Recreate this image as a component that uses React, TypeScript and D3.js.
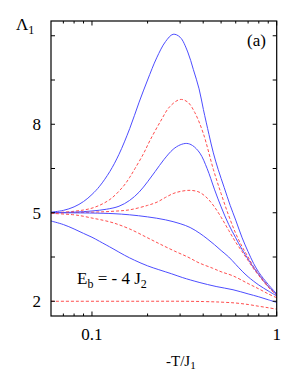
import React from "react";
import * as d3 from "d3";

const blue1T = [0.06, 0.07, 0.08, 0.09, 0.1, 0.11, 0.125, 0.14, 0.16, 0.18, 0.2, 0.224, 0.25, 0.275, 0.3, 0.33, 0.354, 0.38, 0.401, 0.43, 0.454, 0.482, 0.52, 0.56, 0.6, 0.65, 0.7, 0.75, 0.8, 0.9, 1.0];
const blue1V = [5.02, 5.08, 5.2, 5.38, 5.62, 5.9, 6.4, 6.98, 7.85, 8.75, 9.5, 10.25, 10.8, 11.05, 10.95, 10.45, 9.85, 9.2, 8.5, 7.65, 7.03, 6.47, 5.85, 5.25, 4.75, 4.15, 3.68, 3.28, 2.98, 2.57, 2.25];

const red1T = [0.06, 0.08, 0.1016, 0.125, 0.148, 0.16, 0.171, 0.19, 0.206, 0.235, 0.264, 0.3, 0.33, 0.36, 0.4, 0.454, 0.5, 0.55, 0.6, 0.65, 0.7, 0.75, 0.8, 0.9, 1.0];
const red1V = [5.0, 5.05, 5.17, 5.45, 5.9, 6.2, 6.5, 7.0, 7.45, 8.1, 8.6, 8.84, 8.75, 8.4, 7.7, 6.47, 5.65, 4.9, 4.3, 3.85, 3.5, 3.17, 2.92, 2.52, 2.22];

const blue2T = [0.06, 0.08, 0.1, 0.12, 0.14, 0.16, 0.18, 0.2, 0.22, 0.245, 0.275, 0.3, 0.326, 0.35, 0.384, 0.42, 0.46, 0.5, 0.55, 0.6, 0.65, 0.7, 0.75, 0.8, 0.9, 1.0];
const blue2V = [5.0, 5.02, 5.06, 5.12, 5.22, 5.42, 5.7, 6.05, 6.4, 6.8, 7.15, 7.3, 7.35, 7.28, 7.02, 6.5, 5.8, 5.2, 4.6, 4.15, 3.75, 3.43, 3.14, 2.9, 2.5, 2.22];

const red2T = [0.06, 0.1, 0.13, 0.16, 0.2, 0.225, 0.25, 0.275, 0.3, 0.34, 0.38, 0.42, 0.46, 0.5, 0.55, 0.6, 0.65, 0.7, 0.75, 0.8, 0.9, 1.0];
const red2V = [5.0, 5.02, 5.05, 5.1, 5.25, 5.36, 5.52, 5.65, 5.72, 5.76, 5.7, 5.5, 5.2, 4.85, 4.4, 4.0, 3.68, 3.38, 3.1, 2.87, 2.48, 2.2];

const blue3T = [0.06, 0.1, 0.13, 0.16, 0.2, 0.25, 0.3, 0.34, 0.384, 0.42, 0.46, 0.5, 0.55, 0.6, 0.65, 0.7, 0.8, 0.9, 1.0];
const blue3V = [5.0, 4.99, 4.97, 4.93, 4.86, 4.76, 4.63, 4.5, 4.3, 4.12, 3.92, 3.72, 3.5, 3.25, 3.02, 2.83, 2.55, 2.35, 2.18];

const red3T = [0.06, 0.08, 0.09, 0.1, 0.11, 0.13, 0.16, 0.2, 0.235, 0.28, 0.33, 0.38, 0.45, 0.5, 0.58, 0.7, 0.8, 0.9, 1.0];
const red3V = [4.98, 4.93, 4.88, 4.82, 4.77, 4.66, 4.45, 4.15, 3.93, 3.7, 3.5, 3.3, 3.12, 3.0, 2.86, 2.6, 2.42, 2.25, 2.12];

const blue4T = [0.06, 0.07, 0.08, 0.09, 0.1, 0.11, 0.13, 0.15, 0.17, 0.2, 0.23, 0.27, 0.31, 0.38, 0.47, 0.58, 0.7, 0.8, 0.9, 1.0];
const blue4V = [4.72, 4.6, 4.45, 4.3, 4.17, 4.03, 3.78, 3.56, 3.39, 3.2, 3.07, 2.93, 2.8, 2.64, 2.5, 2.39, 2.25, 2.15, 2.05, 1.96];

const red4T = [0.06, 0.2, 0.3, 0.4, 0.5, 0.6, 0.7, 0.8, 0.9, 1.0];
const red4V = [2.0, 2.0, 2.0, 1.99, 1.97, 1.94, 1.89, 1.83, 1.78, 1.73];

const yTicks = [2, 3.5, 5, 6.5, 8, 9.5, 11];
const yLabels = [2, 5, 8];
const xMajor = [0.1, 1];
const xMinor = [0.07, 0.08, 0.09, 0.2, 0.3, 0.4, 0.5, 0.6, 0.7, 0.8, 0.9];

const series = [
  { t: blue1T, v: blue1V, kind: "blue" },
  { t: red1T, v: red1V, kind: "red" },
  { t: blue2T, v: blue2V, kind: "blue" },
  { t: red2T, v: red2V, kind: "red" },
  { t: blue3T, v: blue3V, kind: "blue" },
  { t: red3T, v: red3V, kind: "red" },
  { t: blue4T, v: blue4V, kind: "blue" },
  { t: red4T, v: red4V, kind: "red" },
];

const FONT = "'Liberation Serif', 'DejaVu Serif', serif";

export default function App() {
  const L = 51, R = 276.7, T = 21, B = 316;
  const x = d3.scaleLog().domain([0.06, 1]).range([L, R]);
  const y = d3.scaleLinear().domain([1.5, 11.5]).range([B, T]);
  const ts = { fontFamily: FONT };

  const line = d3
    .line<[number, number]>()
    .x((d) => x(d[0]))
    .y((d) => y(d[1]))
    .curve(d3.curveCatmullRom.alpha(0.5));

  return (
    <svg width={307} height={370} style={{ position: "absolute", left: 0, top: 0 }}>
      <rect x={0} y={0} width={307} height={370} fill="white" />
      <defs>
        <clipPath id="plot">
          <rect x={L} y={T} width={R - L} height={B - T} />
        </clipPath>
      </defs>
      <g clipPath="url(#plot)">
        {series.map((s, i) => (
          <path
            key={i}
            d={line(s.t.map((t, j) => [t, s.v[j]] as [number, number])) || ""}
            fill="none"
            stroke={s.kind === "blue" ? "#4d4dff" : "#ff4d4d"}
            strokeWidth={1}
            strokeDasharray={s.kind === "red" ? "3,2" : undefined}
          />
        ))}
      </g>
      <rect x={L} y={T} width={R - L} height={B - T} fill="none" stroke="black" strokeWidth={1.2} />
      {yTicks.map((v) => (
        <g key={"y" + v}>
          <line x1={L} x2={L + 4} y1={y(v)} y2={y(v)} stroke="black" strokeWidth={1} />
          <line x1={R} x2={R - 4} y1={y(v)} y2={y(v)} stroke="black" strokeWidth={1} />
        </g>
      ))}
      {yLabels.map((v) => (
        <text key={"yl" + v} x={41} y={y(v) + 6} textAnchor="end" fontSize={17} style={ts}>
          {v}
        </text>
      ))}
      {xMajor.map((t) => (
        <g key={"xM" + t}>
          <line x1={x(t)} x2={x(t)} y1={B} y2={B - 4.5} stroke="black" strokeWidth={1} />
          <line x1={x(t)} x2={x(t)} y1={T} y2={T + 4.5} stroke="black" strokeWidth={1} />
          <text x={x(t)} y={340} textAnchor="middle" fontSize={17} style={ts}>
            {t}
          </text>
        </g>
      ))}
      {xMinor.map((t) => (
        <g key={"xm" + t}>
          <line x1={x(t)} x2={x(t)} y1={B} y2={B - 2.5} stroke="black" strokeWidth={1} />
          <line x1={x(t)} x2={x(t)} y1={T} y2={T + 2.5} stroke="black" strokeWidth={1} />
        </g>
      ))}
      <text x={16} y={29.5} fontSize={17} style={ts}>
        Λ<tspan fontSize={12} dy={4}>1</tspan>
      </text>
      <text x={247} y={46} fontSize={17} style={ts}>(a)</text>
      <text x={77} y={284} fontSize={17} style={ts}>
        E<tspan fontSize={12} dy={4}>b</tspan>
        <tspan dy={-4}> = - 4 J</tspan>
        <tspan fontSize={12} dy={4}>2</tspan>
      </text>
      <text x={166} y={366} fontSize={15} style={ts}>
        -T/J<tspan fontSize={11} dy={3}>1</tspan>
      </text>
    </svg>
  );
}
